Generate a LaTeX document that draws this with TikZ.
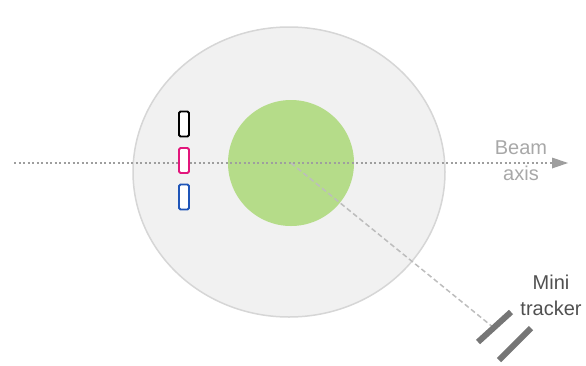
\documentclass[tikz,border=0pt]{standalone}
\usepackage{fontspec}
\setmainfont{Liberation Sans}
\usetikzlibrary{shapes.geometric,arrows.meta}

\definecolor{chamberfill}{HTML}{F1F1F1}
\definecolor{chamberline}{HTML}{D6D6D6}
\definecolor{targetgreen}{HTML}{B5DC89}
\definecolor{axisgray}{HTML}{9E9E9E}
\definecolor{pathgray}{HTML}{BDBDBD}
\definecolor{trackergray}{HTML}{767676}
\definecolor{labeldark}{HTML}{505050}
\definecolor{labellight}{HTML}{A8A8A8}
\definecolor{detpink}{HTML}{E2177C}
\definecolor{detblue}{HTML}{1F55B8}

\tikzset{
  detector/.style={draw=#1, line width=1.8pt, fill=white, rounded corners=1.5pt,
    minimum width=10pt, minimum height=25pt, inner sep=0pt},
  trackerbar/.style={draw=trackergray, line width=6pt},
  lbl/.style={font=\fontsize{20}{26}\selectfont, align=center, inner sep=0pt}
}

\begin{document}
\begin{tikzpicture}[x=1pt,y=-1pt]
  \useasboundingbox (0,0) rectangle (586,365);

  % vacuum chamber and target
  \node[ellipse, draw=chamberline, fill=chamberfill, line width=1.5pt,
        minimum width=312pt, minimum height=290pt, inner sep=0pt] (chamber) at (289,172) {};
  \node[circle, fill=targetgreen, minimum size=126pt, inner sep=0pt] (target) at (291,163) {};

  % beam axis
  \coordinate (axisstart) at (14,163);
  \coordinate (axisend) at (568,163);
  \draw[axisgray, line width=2pt, dash pattern=on 2pt off 2.5pt] (axisstart) -- (552,163);
  \draw[draw=none, fill=axisgray] (552,157.5) -- (axisend) -- (552,168.5) -- cycle;

  % scattered particle path towards the tracker
  \coordinate (trackhit) at (494,328);
  \draw[pathgray, line width=1.5pt, dash pattern=on 5pt off 3pt] (target.center) -- (trackhit);

  % detectors
  \node[detector=black] (detA) at (184,124) {};
  \node[detector=detpink] (detB) at (184,160.5) {};
  \node[detector=detblue] (detC) at (184,197) {};

  % mini tracker planes
  \coordinate (planeAa) at (478,342);
  \coordinate (planeAb) at (511,312);
  \coordinate (planeBa) at (499,360);
  \coordinate (planeBb) at (531,328);
  \draw[trackerbar] (planeAa) -- (planeAb);
  \draw[trackerbar] (planeBa) -- (planeBb);

  % labels
  \node[lbl, text=labellight] (beamlabel) at (521,161) {Beam\\axis};
  \node[lbl, text=labeldark] (trackerlabel) at (551,295) {Mini\\tracker};
\end{tikzpicture}
\end{document}
